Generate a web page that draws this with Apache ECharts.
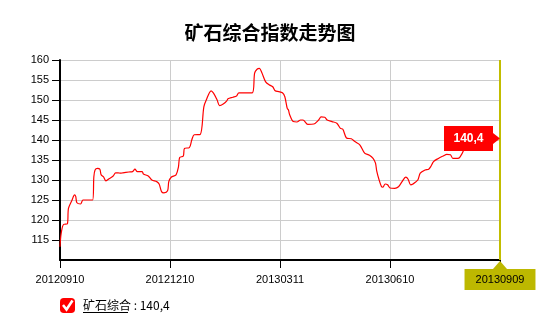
<!DOCTYPE html>
<html>
<head>
<meta charset="utf-8">
<script src="https://cdn.jsdelivr.net/npm/echarts@6/dist/echarts.min.js"></script>
<style>html,body{margin:0;padding:0;background:#fff}#c{width:540px;height:320px}</style>
</head>
<body>
<div id="c"></div>
<script>
// Data: days since 2012-09-10 and index values
const seriesName = '矿石综合';
const lastValueText = '140,4';
const lastValue = 140.4;
const tickLabels = ['20120910', '20121210', '20130311', '20130610', '20130909'];
const tickStepDays = 91;
const dayOffsets = [0,1,3,6,7,10,12,13,14,17,19,22,27,28,29,31,33,34,36,38,41,44,46,48,50,52,57,60,62,64,68,69,73,76,80,82,84,86,89,90,92,96,98,99,102,103,107,109,111,116,119,121,125,127,130,132,135,138,139,143,146,148,159,161,163,165,167,170,173,176,178,181,184,186,188,189,190,193,196,199,201,205,210,214,216,219,221,225,229,232,234,237,241,244,248,252,256,259,261,262,264,266,267,269,271,273,277,280,283,286,288,290,292,296,298,302,305,307,309,313,317,320,323,325,329,331,334,337];
const indexValues = [113.3,116.7,118.9,119.0,122.9,125.0,126.3,125.9,124.3,124.0,125.0,125.0,125.0,130.8,132.5,132.9,132.7,131.3,130.8,129.8,130.4,131.0,131.8,131.8,131.7,131.8,132.0,132.1,132.7,132.1,132.1,131.5,131.0,130.0,129.6,129.0,127.1,126.8,127.3,129.6,130.7,131.3,133.3,135.6,136.0,137.9,138.1,140.0,141.3,141.4,148.3,150.0,152.3,151.7,150.0,148.6,149.0,149.8,150.3,150.7,151.0,151.8,151.8,156.7,157.7,157.9,156.8,154.6,153.8,153.3,152.3,152.1,151.8,150.8,147.9,147.5,146.3,144.6,144.5,145.0,145.0,143.9,144.0,145.0,145.8,145.7,145.0,144.6,144.2,142.9,142.7,140.5,140.3,139.6,138.8,136.7,136.2,135.4,134.2,132.3,130.0,128.3,128.2,129.0,128.8,128.0,127.9,128.3,129.6,130.7,130.2,128.8,129.0,130.0,131.7,132.5,132.7,133.5,134.6,135.4,136.0,136.4,136.3,135.4,135.4,135.8,137.5,140.4];

const maxDay = tickStepDays * (tickLabels.length - 1);
const lineData = dayOffsets.map((d, i) => [d, indexValues[i]]);
const olive = '#c2bd00';

const chart = echarts.init(document.getElementById('c'), null, {renderer: 'canvas'});
chart.setOption({
  animation: false,
  title: {
    text: '矿石综合指数走势图',
    left: 'center',
    top: 23,
    padding: 0,
    textStyle: {fontFamily: 'Noto Sans CJK SC', fontSize: 19, fontWeight: 'bold', color: '#000'}
  },
  grid: {left: 60, right: 40, top: 60, bottom: 60, containLabel: false},
  legend: {
    left: 60, top: 298, padding: 0,
    icon: 'roundRect', itemWidth: 15, itemHeight: 15, itemGap: 10,
    selectedMode: false,
    data: [{name: seriesName, itemStyle: {color: '#ff0000'}}],
    formatter: (n) => n + ' : ' + lastValueText,
    textStyle: {fontFamily: 'Noto Sans CJK SC', fontSize: 12, color: '#000', padding: [0,0,0,3]}
  },
  xAxis: {
    type: 'value', min: 0, max: maxDay, interval: tickStepDays,
    axisLine: {show: true, onZero: false, lineStyle: {color: '#000', width: 2}},
    axisTick: {show: true, length: 8, lineStyle: {color: '#000'}},
    splitLine: {show: true, lineStyle: {color: '#cccccc', width: 1}},
    axisLabel: {
      margin: 9, showMaxLabel: true, showMinLabel: true,
      formatter: (v) => {
        const i = Math.round(v / tickStepDays);
        return i === tickLabels.length - 1 ? '{hl|' + tickLabels[i] + '}' : '{n|' + tickLabels[i] + '}';
      },
      rich: {
        n: {fontFamily: 'Liberation Sans', fontSize: 11, color: '#000', padding: [5, 11]},
        hl: {fontFamily: 'Liberation Sans', fontSize: 11, color: '#000', padding: [5, 11], backgroundColor: '#bdb800'}
      }
    }
  },
  yAxis: {
    type: 'value', min: 110, max: 160, interval: 5,
    axisLine: {show: true, lineStyle: {color: '#000', width: 2}},
    axisTick: {show: true, length: 8, lineStyle: {color: '#000'}},
    splitLine: {show: true, lineStyle: {color: '#cccccc', width: 1}},
    axisLabel: {showMinLabel: false, margin: 11, fontFamily: 'Liberation Sans', fontSize: 11, color: '#000'}
  },
  series: [{
    name: seriesName,
    type: 'line',
    data: lineData,
    showSymbol: false,
    smooth: 0.3,
    color: '#ff0000',
    lineStyle: {color: '#ff0000', width: 1.2},
    emphasis: {disabled: true},
    markLine: {
      silent: true, symbol: 'none', label: {show: false},
      lineStyle: {color: olive, width: 2, type: 'solid'},
      data: [{xAxis: maxDay}]
    },
    markPoint: {
      silent: true,
      data: [
        {
          coord: [maxDay, lastValue],
          symbol: 'path://M0,0L49,0L49,7L56,12.5L49,18L49,25L0,25Z',
          symbolSize: [56, 25], symbolOffset: [-28, 0],
          itemStyle: {color: '#ff0000'},
          label: {show: true, position: 'inside', offset: [-3.5, 0], formatter: lastValueText,
                  color: '#fff', fontWeight: 'bold', fontSize: 12, fontFamily: 'Liberation Sans'}
        },
        {
          coord: [maxDay, 110],
          symbol: 'triangle', symbolSize: [14, 8], symbolOffset: [0, 5],
          itemStyle: {color: '#bdb800'},
          label: {show: false}
        }
      ]
    }
  }],
  graphic: [
    {type: 'polyline', silent: true, z: 100,
     shape: {points: [[63, 305], [66.5, 309.5], [72.5, 300.5]]},
     style: {stroke: '#fff', lineWidth: 2.5, fill: null}},
    {type: 'line', silent: true, z: 100,
     shape: {x1: 83, y1: 312.5, x2: 128, y2: 312.5},
     style: {stroke: '#000', lineWidth: 1}}
  ]
});
</script>
</body>
</html>
